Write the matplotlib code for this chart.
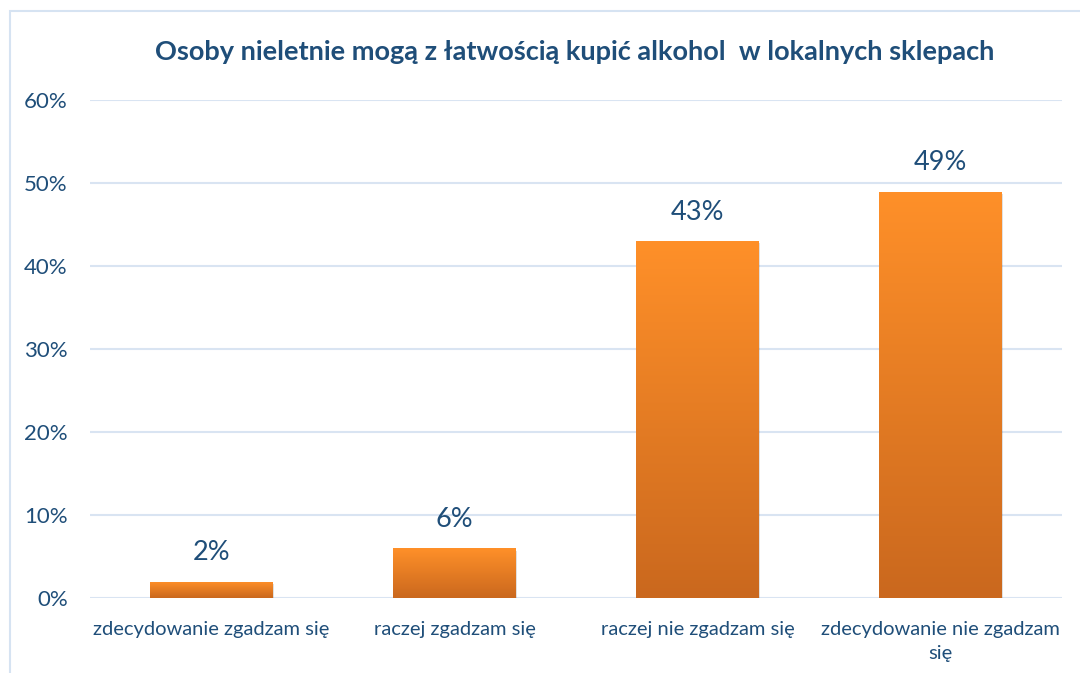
import numpy as np
import matplotlib
matplotlib.use('Agg')
import matplotlib.pyplot as plt
from matplotlib.colors import LinearSegmentedColormap
from matplotlib.patches import Rectangle

plt.rcParams['font.family'] = ['Lato', 'DejaVu Sans']

categories = ['zdecydowanie zgadzam się', 'raczej zgadzam się',
              'raczej nie zgadzam się', 'zdecydowanie nie zgadzam\nsię']
values = [2, 6, 43, 49]
yticks = [0, 10, 20, 30, 40, 50, 60]

text_col = '#1F4E79'
grad = LinearSegmentedColormap.from_list('orng', ['#CA681E', '#FF9029'])

fig = plt.figure(figsize=(10.8, 6.73), dpi=100)
# chart border like the office chart frame
fig.patches.append(Rectangle((0.009, -0.01), 1.2, 0.993, transform=fig.transFigure,
                             fill=False, edgecolor='#D6E3F2', lw=1.5))
ax = fig.add_axes([0.0833, 0.111, 0.9, 0.74])

x = np.arange(len(values))
bars = ax.bar(x, values, width=0.505, color='none', zorder=3)
for b in bars:
    x0, y0 = b.get_x(), b.get_y()
    w, h = b.get_width(), b.get_height()
    # soft shadow
    ax.add_patch(Rectangle((x0 + 0.006, y0 - 0.25), w, h, color='#000000', alpha=0.12, lw=0, zorder=2))
    img = ax.imshow(np.linspace(0, 1, 256).reshape(-1, 1), cmap=grad, aspect='auto',
                    extent=[x0, x0 + w, y0, y0 + h], origin='lower', zorder=3)
    img.set_clip_path(b)

for xi, v in zip(x, values):
    ax.text(xi, v + 2.0, f'{v}%', ha='center', va='bottom', fontsize=19.5, color=text_col)

ax.set_xlim(-0.5, len(values) - 0.5)
ax.set_ylim(0, 60)
ax.set_yticks(yticks)
ax.set_yticklabels([f'{t}%' for t in yticks], fontsize=16, color=text_col)
ax.set_xticks(x)
ax.set_xticklabels(categories, fontsize=14.5, color=text_col, linespacing=1.5)
ax.tick_params(length=0, pad=16, axis='y')
ax.tick_params(length=0, pad=16, axis='x')
ax.grid(axis='y', color='#D9E4F2', lw=1.5, zorder=0)
for s in ax.spines.values():
    s.set_visible(False)

fig.text(0.532, 0.922, 'Osoby nieletnie mogą z łatwością kupić alkohol  w lokalnych sklepach',
         ha='center', va='center', fontsize=19.5, fontweight='bold', color=text_col)

fig.savefig('out.png', dpi=100)
